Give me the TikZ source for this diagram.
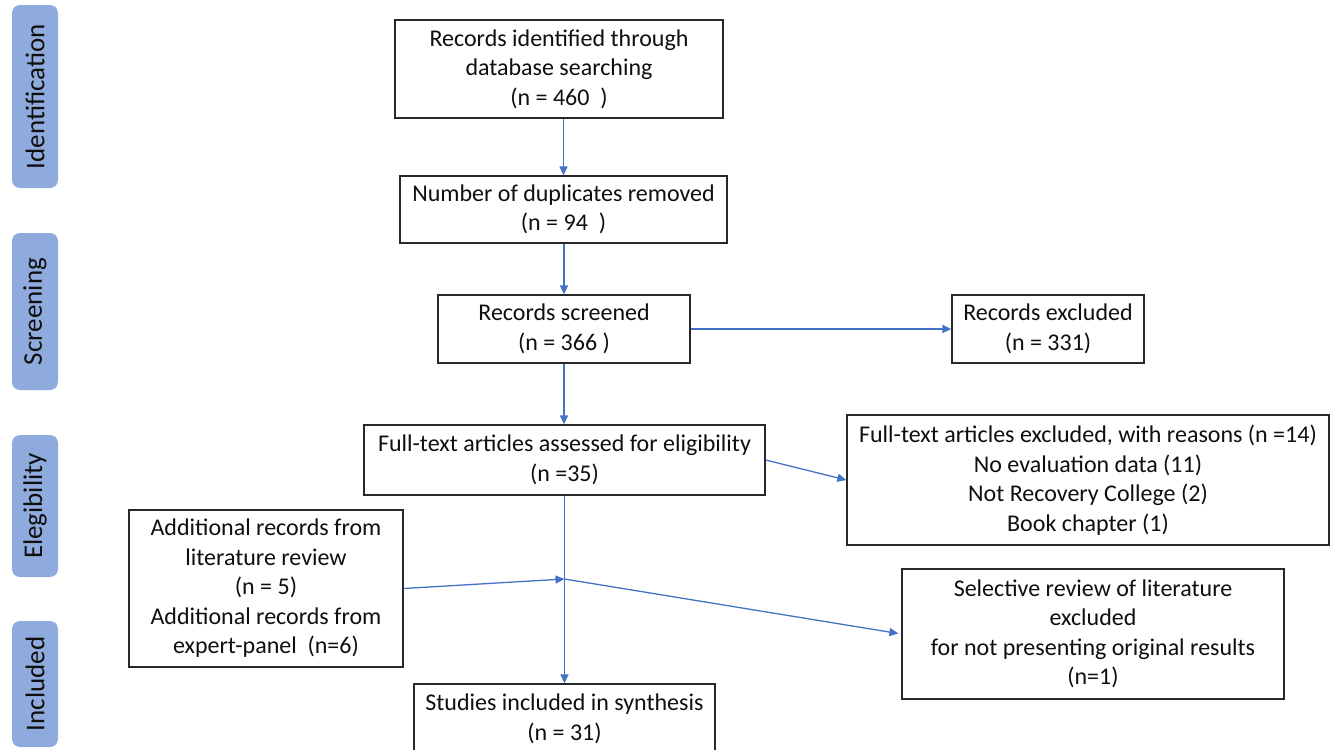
\documentclass[tikz,border=0pt]{standalone}
\usepackage{fontspec}
\setmainfont{Carlito}
\usetikzlibrary{arrows.meta,calc}
\definecolor{arrowblue}{RGB}{68,114,196}
\definecolor{stagefill}{RGB}{143,170,220}
\definecolor{boxline}{RGB}{40,40,40}
\definecolor{inktext}{RGB}{15,15,15}
\tikzset{
  flowbox/.style={draw=boxline, line width=1.3pt, fill=white, align=center,
    inner sep=0pt, text=inktext,
    font=\fontsize{24}{29.5}\selectfont},
  stage/.style={fill=stagefill, rounded corners=8pt, rotate=90, inner sep=0pt,
    text=inktext, font=\fontsize{27}{32}\selectfont, minimum height=46pt},
  arr/.style={draw=arrowblue, line width=1.3pt,
    -{Triangle[length=9pt,width=8pt]}},
}
\begin{document}
\begin{tikzpicture}[x=1pt,y=-1pt]
\useasboundingbox (0,0) rectangle (1334,750);
\begin{scope}
\clip (0,0) rectangle (1334,750);

% stage labels on the left
\node[stage, minimum width=183pt] (sid) at (35,96.5) {Identification};
\node[stage, minimum width=157pt] (sscr) at (35,311.5) {Screening};
\node[stage, minimum width=142pt] (sel) at (35,506) {Elegibility};
\node[stage, minimum width=126pt] (sinc) at (35,684) {Included};

% flow boxes
\node[flowbox, minimum width=328pt, minimum height=98pt] (ident) at (559,69)
  {Records identified through\\database searching\\(n = 460\ \ )};
\node[flowbox, minimum width=327pt, minimum height=67pt] (dup) at (563.5,209.5)
  {Number of duplicates removed\\(n = 94\ \ )};
\node[flowbox, minimum width=252pt, minimum height=68pt] (screen) at (564,329)
  {Records screened\\(n = 366 )};
\node[flowbox, minimum width=192pt, minimum height=68pt] (rexcl) at (1048,329)
  {Records excluded\\(n = 331)};
\node[flowbox, minimum width=401pt, minimum height=70pt] (full) at (564.5,460)
  {Full-text articles assessed for eligibility\\(n =35)};
\node[flowbox, minimum width=482pt, minimum height=130pt] (fexcl) at (1088,480)
  {Full-text articles excluded, with reasons (n =14)\\No evaluation data (11)\\Not Recovery College (2)\\Book chapter (1)};
\node[flowbox, minimum width=274pt, minimum height=157pt] (addl) at (266,588.5)
  {Additional records from\\literature review\\(n = 5)\\Additional records from\\expert-panel\ \ (n=6)};
\node[flowbox, minimum width=382pt, minimum height=130pt] (selrev) at (1093,634)
  {Selective review of literature\\excluded\\for not presenting original results\\(n=1)};
\node[flowbox, minimum width=301pt, minimum height=70pt] (incl) at (564.5,719)
  {Studies included in synthesis\\(n = 31)};

% merge point on the main line
\coordinate (merge) at (564.5,579);

% connectors
\draw[arr] (ident.south -| dup.north) -- (dup.north);
\draw[arr] (dup.south -| screen.north) -- (screen.north);
\draw[arr] (screen.east) -- (rexcl.west);
\draw[arr] (screen.south) -- (screen.south |- full.north);
\draw[arr] (full.east) -- (fexcl.west);
\draw[arr] (full.south) -- (full.south |- incl.north);
\draw[arr] (addl.east) -- (merge);
\draw[arr, shorten >=3pt] (merge) -- (selrev.west);
\end{scope}
\end{tikzpicture}
\end{document}
